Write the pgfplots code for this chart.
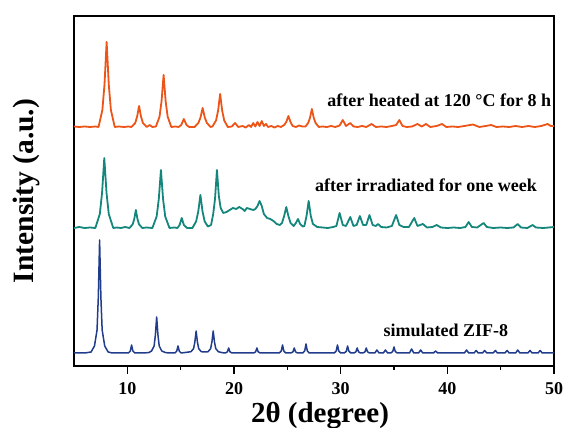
\documentclass[border=0pt]{standalone}
\usepackage{fontspec}
\setmainfont{Liberation Serif}
\usepackage{pgfplots}
\pgfplotsset{compat=1.18}
\definecolor{corange}{RGB}{236,84,24}
\definecolor{cteal}{RGB}{20,134,124}
\definecolor{cblue}{RGB}{34,60,140}
\begin{document}
\begin{tikzpicture}
\path[use as bounding box] (-74pt,-62pt) rectangle (491pt,366pt);
\begin{axis}[
  at={(0pt,0pt)}, anchor=south west,
  scale only axis, width=480pt, height=350pt,
  xmin=5, xmax=50, ymin=0, ymax=350,
  xtick={10,20,30,40,50}, minor xtick={15,25,35,45},
  ytick=\empty, xtick pos=bottom, tick align=outside,
  major tick length=8pt, minor tick length=4pt,
  axis line style={line width=1.7pt},
  every tick/.style={black, line width=1.4pt},
  /pgf/number format/assume math mode=true,
  xticklabel style={font=\fontsize{18}{18}\selectfont\bfseries, anchor=base, yshift=-20.5pt},
  xlabel={2θ (degree)},
  xlabel style={font=\fontsize{29}{29}\selectfont\bfseries, at={(axis description cs:0.5125,0)}, anchor=base, yshift=-56.5pt},
  ylabel={Intensity (a.u.)},
  ylabel style={font=\fontsize{29.5}{29.5}\selectfont\bfseries, at={(axis description cs:-0.0848,0.5)}, anchor=base},
]
\addplot[corange, line width=1.8pt, line join=round] coordinates {
(5,239.5)(5.5,239)(6,239.5)(6.5,239)(7,239.5)(7.3,239)(7.66,256)(7.86,281.5)(8.06,324)(8.26,281.5)(8.46,256)(8.82,239)(9.2,239.5)(9.7,239)(10.1,239.5)(10.38,239)(10.74,243)(10.92,249.5)(11.1,260)(11.28,249.5)(11.46,243)(11.82,239)(12.1,241)(12.35,239)(12.68,239.5)(13.02,249.4)(13.21,265)(13.4,291)(13.59,265)(13.78,249.4)(14.12,239)(14.5,239.5)(14.8,239)(15.05,241)(15.3,247)(15.55,241)(15.8,239)(16.3,239)(16.66,243)(16.86,248.5)(17.06,258)(17.26,248.5)(17.46,243)(17.8,239)(17.98,239.5)(18.32,245.6)(18.51,255.5)(18.7,272)(18.89,255.5)(19.08,245.6)(19.42,239)(19.8,239.5)(20.1,243)(20.4,239)(20.8,240)(21.1,238.5)(21.4,241)(21.6,239)(21.8,243)(22.0,239.5)(22.2,244)(22.4,240)(22.6,245)(22.8,240)(23.0,242)(23.2,239)(23.5,240)(23.8,238.5)(24.1,240)(24.4,239)(24.7,241)(24.9,244)(25.1,250)(25.3,244)(25.5,240)(25.8,239)(26.1,240.5)(26.4,239.5)(26.7,239.5)(26.95,243)(27.12,248)(27.3,257)(27.48,248)(27.65,243)(27.95,239)(28.3,239.5)(28.7,239)(29.1,240)(29.5,239)(29.9,240.5)(30.2,246)(30.5,240)(30.9,243)(31.2,239.5)(31.6,239)(32.0,240)(32.4,239)(32.9,242)(33.3,239)(33.8,239.5)(34.3,239)(34.8,240)(35.2,241)(35.5,246)(35.8,240)(36.2,239)(36.7,239.5)(37.2,242)(37.6,239.5)(38.0,242)(38.4,239)(39.0,240)(39.5,242)(39.9,239)(40.5,239.5)(41.0,239)(41.6,240)(42.4,241.5)(43.0,239)(43.6,240)(44.1,241)(44.6,239)(45.2,239.5)(45.8,239)(46.4,240)(47.0,239)(47.6,240)(48.2,239)(48.8,240)(49.4,242)(49.7,240)(50,240)
};
\addplot[cteal, line width=1.8pt, line join=round] coordinates {
(5,138)(5.5,139)(6,138)(6.5,138.5)(7.0,138)(7.42,152)(7.63,173)(7.84,208)(8.05,173)(8.26,152)(8.68,138)(9.0,138.5)(9.4,138)(9.8,139)(10.2,138)(10.5,141.6)(10.65,147)(10.8,156)(10.95,147)(11.1,141.6)(11.4,138)(11.8,138.5)(12.35,138)(12.75,149.6)(12.95,167)(13.15,196)(13.35,167)(13.55,149.6)(13.95,138)(14.4,138.5)(14.7,138)(14.9,141)(15.1,148)(15.3,141)(15.6,138)(16.1,138)(16.45,144.6)(16.65,154.5)(16.85,171)(17.05,154.5)(17.25,144.6)(17.55,139.5)(17.85,141)(18.05,152)(18.22,167)(18.4,196)(18.58,170)(18.75,158)(19.0,153)(19.3,154)(19.6,156)(19.9,158)(20.2,157)(20.5,159)(20.8,157)(21.0,155)(21.2,158)(21.5,157)(21.8,156)(22.0,157)(22.2,160)(22.4,165)(22.6,160)(22.8,152)(23.1,148)(23.4,147)(23.7,145)(24.0,142)(24.3,141)(24.5,143)(24.7,150)(24.9,159)(25.1,150)(25.3,143)(25.6,140)(25.8,143)(26.0,147)(26.2,142)(26.45,139.5)(26.6,140)(26.8,150)(27.0,165)(27.2,150)(27.4,142)(27.8,139)(28.3,138.5)(28.8,138)(29.3,139)(29.6,140)(29.9,153)(30.2,141)(30.5,140)(30.9,149)(31.2,140)(31.5,141)(31.8,150)(32.1,141)(32.4,141)(32.7,151)(33.0,141)(33.3,140)(33.5,142)(33.8,139)(34.3,138.5)(34.8,140)(35.2,151)(35.5,141)(35.9,139)(36.4,139)(36.9,148)(37.2,140)(37.7,142)(38.1,138.5)(38.6,139)(39.0,141)(39.4,138.5)(40.0,138)(40.6,138.5)(41.2,138)(41.7,139)(42.0,144)(42.3,139)(42.8,138.5)(43.4,143)(43.7,139)(44.3,138)(45.0,138.5)(45.6,138)(46.2,138.5)(46.6,142)(46.9,138.5)(47.5,138)(48.0,141)(48.3,138.5)(49.0,138)(49.5,138.5)(50,139)
};
\addplot[cblue, line width=1.5pt, line join=round] coordinates {
(5,13)(6,13)(6.6,14)(6.92,20)(7.16,36)(7.28,69)(7.4,126)(7.52,69)(7.64,36)(7.88,20)(8.2,14)(8.6,13)(10.1,13)(10.28,15)(10.4,21)(10.52,15)(10.7,13)(12.0,13.3)(12.27,15)(12.51,20)(12.63,31)(12.75,49)(12.87,31)(12.99,20)(13.23,15)(13.6,13.3)(14.45,13)(14.63,14.8)(14.75,20)(14.87,14.8)(15.05,13)(15.97,14.3)(16.21,17.4)(16.33,24)(16.45,35)(16.57,24)(16.69,17.4)(16.93,14.3)(17.25,14)(17.57,14.3)(17.81,17.4)(17.93,24)(18.05,35)(18.17,24)(18.29,17.4)(18.53,14.3)(18.9,13.3)(19.2,13)(19.38,14.2)(19.5,18)(19.62,14.2)(19.8,13)(21.85,13)(22.03,14.2)(22.15,18)(22.27,14.2)(22.45,13)(24.25,13)(24.43,15)(24.55,21)(24.67,15)(24.85,13)(25.35,13)(25.53,14.2)(25.65,18)(25.77,14.2)(25.95,13)(26.45,13)(26.63,15.2)(26.75,22)(26.87,15.2)(27.05,13)(29.4,13)(29.58,15)(29.7,21)(29.82,15)(30.0,13)(30.35,13)(30.53,14.8)(30.65,20)(30.77,14.8)(30.95,13)(31.25,13)(31.43,14.2)(31.55,18)(31.67,14.2)(31.85,13)(32.1,13)(32.28,14.2)(32.4,18)(32.52,14.2)(32.7,13)(33.2,13)(33.4,16)(33.6,13)(34.0,13)(34.2,16)(34.4,13)(34.7,13)(34.88,14.5)(35.0,19)(35.12,14.5)(35.3,13)(36.45,13)(36.65,17)(36.85,13)(37.3,13)(37.5,16)(37.7,13)(38.7,13)(38.9,15)(39.1,13)(41.6,13)(41.8,16)(42.0,13)(42.5,13)(42.7,15.5)(42.9,13)(43.3,13)(43.5,15.5)(43.7,13)(44.3,13)(44.5,15.5)(44.7,13)(45.4,13)(45.6,15.5)(45.8,13)(46.4,13)(46.6,16)(46.8,13)(47.55,13)(47.75,15.5)(47.95,13)(48.5,13)(48.7,15.5)(48.9,13)(50,13)
};
\node[anchor=east, inner sep=0pt, font=\fontsize{18}{18}\selectfont\bfseries] at (axis cs:49.75,265.5) {after heated at 120 °C for 8 h};
\node[anchor=center, inner sep=0pt, font=\fontsize{18}{18}\selectfont\bfseries] at (axis cs:38.0,181) {after irradiated for one week};
\node[anchor=center, inner sep=0pt, font=\fontsize{18}{18}\selectfont\bfseries] at (axis cs:39.87,36) {simulated ZIF-8};
\end{axis}
\end{tikzpicture}
\end{document}
